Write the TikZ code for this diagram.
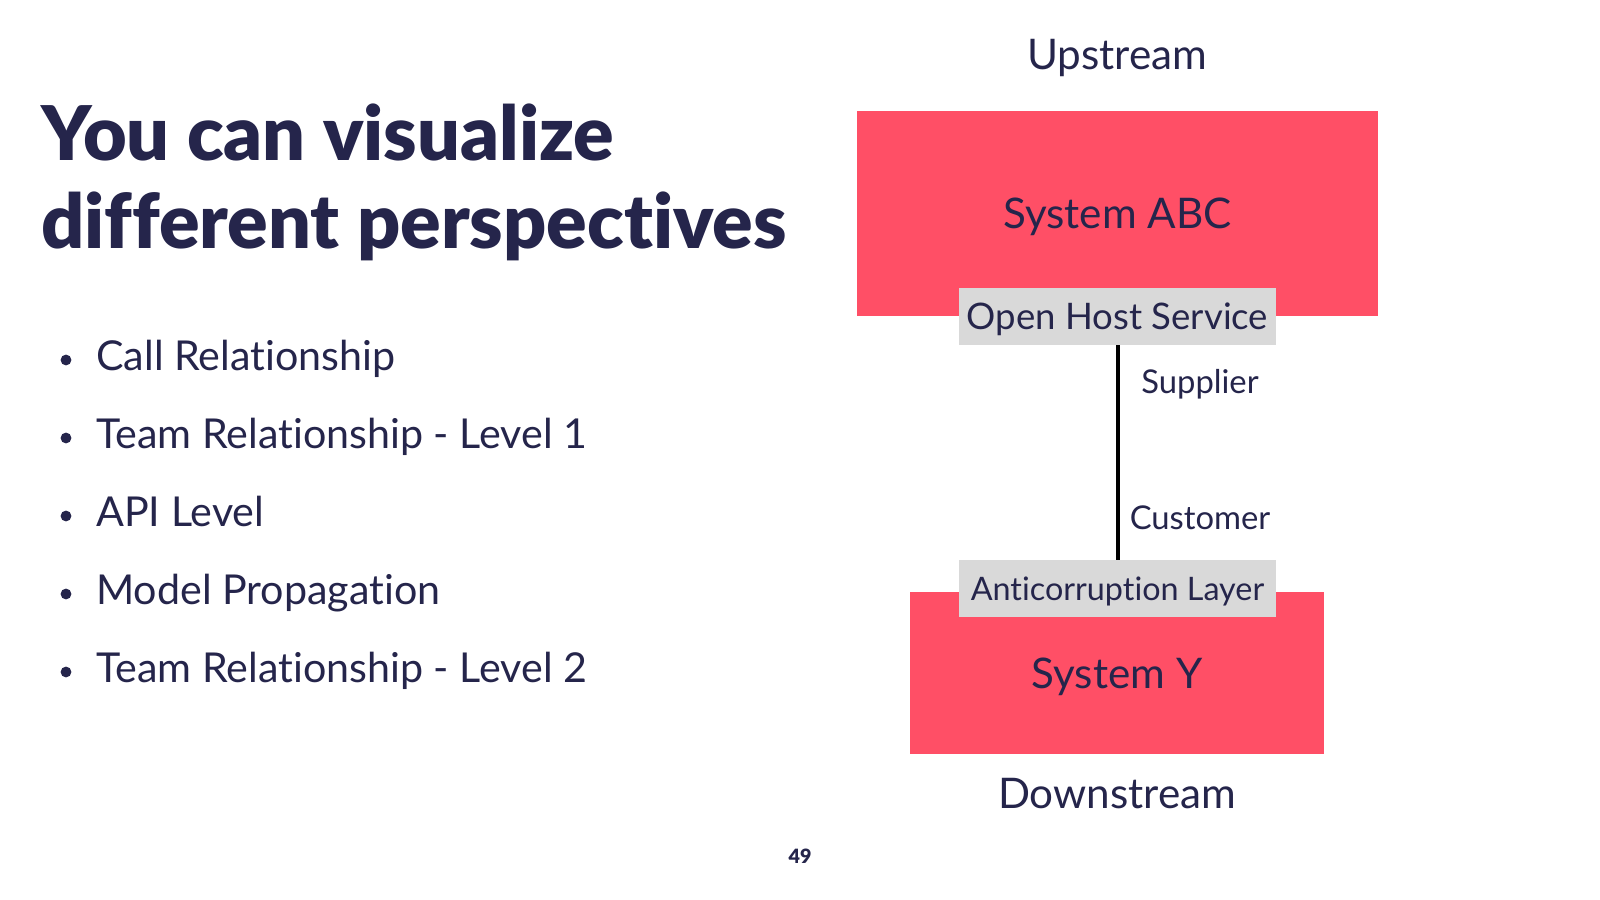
\documentclass[tikz,border=0pt]{standalone}
\usepackage{fontspec}
\setmainfont[Ligatures=NoCommon]{Lato}
\newfontfamily\headfont[Ligatures=NoCommon]{Lato Black}
\usepackage{xcolor}
\definecolor{slideInk}{HTML}{25254B}
\definecolor{slideRed}{HTML}{FF4F66}
\definecolor{slideGrey}{HTML}{D9D9D9}
\usetikzlibrary{positioning}

\begin{document}
\begin{tikzpicture}[
    x=0.025cm, y=-0.025cm,
    every node/.style={text=slideInk},
    system/.style={rectangle, fill=slideRed, inner sep=0pt, text depth=0pt,
                   font=\fontsize{30}{36}\selectfont},
    pattern/.style={rectangle, fill=slideGrey, inner sep=0pt, text depth=0pt,
                   minimum width=7.925cm, minimum height=1.425cm},
    role/.style={anchor=base, font=\fontsize{23.3}{28}\selectfont},
    stream/.style={anchor=base, font=\fontsize{30}{36}\selectfont},
    headline/.style={anchor=base west, inner sep=0pt,
                   font=\headfont\fontsize{53.6}{64}\selectfont},
    entry/.style={anchor=base west, inner sep=0pt,
                   font=\fontsize{29.3}{35}\selectfont},
    bulletdot/.style={circle, fill=slideInk, inner sep=0pt, minimum size=0.27cm},
    link/.style={line width=2.85pt, black}
]
\useasboundingbox[fill=white] (0,0) rectangle (1600,900);

% title
\node[headline] (title1) at (41,160) {You can visualize};
\node[headline] (title2) at (41,248) {different perspectives};

% perspectives list
\foreach \entrytext [count=\n] in {Call Relationship,
    Team Relationship - Level 1, API Level, Model Propagation,
    Team Relationship - Level 2} {
  \pgfmathsetmacro\yb{370+78*(\n-1)}
  \node[bulletdot] (dot\n) at (66,\yb-10) {};
  \node[entry] (entry\n) at (96,\yb) {\entrytext};
}

% context map
\node[stream] (upstream) at (1117,70) {Upstream};
\node[system, minimum width=13.025cm, minimum height=5.125cm] (abc)
    at (1117.5,213.5) {System ABC};
\node[pattern, font=\fontsize{26}{31}\selectfont] (ohs)
    at (1117.5,316.5) {Open Host Service};

\node[system, minimum width=10.35cm, minimum height=4.05cm] (sysy)
    at (1117,673) {System Y};
\node[pattern, font=\fontsize{23}{28}\selectfont] (acl)
    at (1117.5,588.5) {Anticorruption Layer};
\node[stream] (downstream) at (1117,808) {Downstream};

\draw[link] (ohs.south) -- (acl.north);
\node[role] (supplier) at (1200,393) {Supplier};
\node[role] (customer) at (1200,529) {Customer};

\node[font=\headfont\fontsize{14}{17}\selectfont] (pagenum) at (800,856) {49};
\end{tikzpicture}
\end{document}
